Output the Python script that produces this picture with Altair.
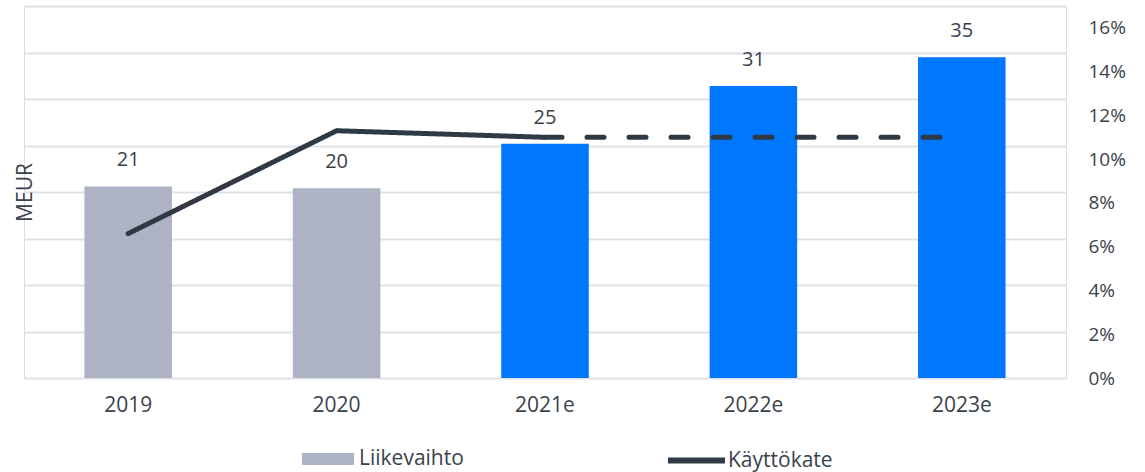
import altair as alt
import pandas as pd

years = ["2019", "2020", "2021e", "2022e", "2023e"]
revenue = [20.6, 20.4, 25.2, 31.4, 34.5]
revenue_labels = ["21", "20", "25", "31", "35"]
revenue_kind = ["Liikevaihto", "Liikevaihto", "Ennuste", "Ennuste", "Ennuste"]

ebitda_years_actual = ["2019", "2020", "2021e"]
ebitda_actual = [6.6, 11.3, 11.0]
ebitda_years_forecast = ["2021e", "2022e", "2023e"]
ebitda_forecast = [11.0, 11.0, 11.0]

pct_ticks = [0, 2, 4, 6, 8, 10, 12, 14, 16]
meur_ticks = [0, 5, 10, 15, 20, 25, 30, 35, 40]

GREY = "#adb3c5"
BLUE = "#0077ff"
DARK = "#2f3a45"
TEXT = "#3a424c"
GRID = "#dfe1e8"
FONT = "Open Sans"

bars_df = pd.DataFrame({"year": years, "value": revenue, "label": revenue_labels, "kind": revenue_kind})
line_df = pd.DataFrame({
    "year": ebitda_years_actual + ebitda_years_forecast,
    "pct": ebitda_actual + ebitda_forecast,
    "seg": ["actual"] * 3 + ["forecast"] * 3,
    "series": ["Käyttökate"] * 6,
})

x = alt.X("year:N", sort=years, title=None,
          scale=alt.Scale(paddingInner=0.58, paddingOuter=0.29),
          axis=alt.Axis(labelAngle=0, ticks=False, domain=False, labelFontSize=21,
                        labelColor=TEXT, labelFont=FONT, labelPadding=16, grid=False))

bars = alt.Chart(bars_df).mark_bar().encode(
    x=x,
    y=alt.Y("value:Q", scale=alt.Scale(domain=[0, 40], nice=False),
            axis=alt.Axis(orient="left", values=meur_ticks, labels=False, ticks=False, domain=False,
                          grid=True, gridColor=GRID, gridWidth=2, title="MEUR",
                          titleFont=FONT, titleFontSize=21, titleFontWeight="normal",
                          titleColor=TEXT, titleX=1, titleY=186, titleBaseline="middle",
                          titleAlign="center", titleAngle=270)),
    color=alt.Color("kind:N", scale=alt.Scale(domain=["Liikevaihto", "Ennuste"], range=[GREY, BLUE]),
                    legend=alt.Legend(values=["Liikevaihto"], title=None, orient="none",
                                      legendX=278, legendY=427, padding=0,
                                      symbolType="M-1,-0.23H1V0.23H-1Z", symbolSize=2704,
                                      symbolStrokeWidth=0, labelFont=FONT, labelFontSize=21,
                                      labelColor=TEXT, labelOffset=5)),
)

labels = alt.Chart(bars_df).mark_text(baseline="alphabetic", dy=-20, fontSize=20, font=FONT,
                                       color=TEXT).encode(
    x=alt.X("year:N", sort=years),
    y=alt.Y("value:Q"),
    text="label:N",
)

left = alt.layer(bars, labels)

line = alt.Chart(line_df).mark_line(strokeWidth=5, strokeCap="round", strokeJoin="round").encode(
    x=alt.X("year:N", sort=years),
    y=alt.Y("pct:Q", scale=alt.Scale(domain=[0, 17], nice=False),
            axis=alt.Axis(orient="right", values=pct_ticks, labelExpr="datum.value + '%'",
                          ticks=False, domain=False, grid=False, title=None, labelFont=FONT,
                          labelFontSize=19, labelColor=TEXT, labelPadding=22)),
    stroke=alt.Stroke("series:N", scale=alt.Scale(domain=["Käyttökate"], range=[DARK]),
                      legend=alt.Legend(title=None, orient="none", legendX=641, legendY=423, padding=0,
                                        symbolType="stroke", symbolSize=3249, symbolStrokeWidth=6,
                                        labelFont=FONT, labelFontSize=21, labelColor=TEXT,
                                        labelOffset=0)),
    strokeDash=alt.StrokeDash("seg:N", scale=alt.Scale(domain=["actual", "forecast"],
                                                       range=[[1, 0], [17, 25]]), legend=None),
)

chart = alt.layer(left, line).resolve_scale(y="independent", color="independent").properties(
    width=1042, height=372,
    autosize=alt.AutoSizeParams(type="none"),
    padding={"left": 24, "top": 6, "right": 79, "bottom": 94},
).configure_view(stroke=None).configure(font=FONT, background="white")

chart.save("out.html", embed_options={"renderer": "svg", "actions": False})
